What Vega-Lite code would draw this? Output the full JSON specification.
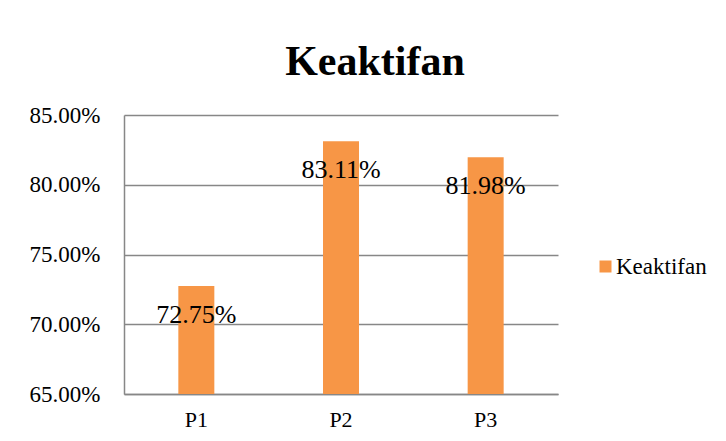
{
  "$schema": "https://vega.github.io/schema/vega-lite/v6.json",
  "width": 434,
  "height": 279,
  "autosize": {"type": "none"},
  "padding": {"left": 124, "top": 115, "right": 168, "bottom": 47},
  "background": "white",
  "title": {
    "text": "Keaktifan",
    "font": "Liberation Serif",
    "fontSize": 42,
    "fontWeight": "bold",
    "color": "black",
    "anchor": "middle",
    "frame": "group",
    "dx": 34,
    "offset": -13,
    "baseline": "alphabetic"
  },
  "data": {
    "values": [
      {"period": "P1", "value": 0.7275, "series": "Keaktifan"},
      {"period": "P2", "value": 0.8311, "series": "Keaktifan"},
      {"period": "P3", "value": 0.8198, "series": "Keaktifan"}
    ]
  },
  "encoding": {
    "x": {
      "field": "period",
      "type": "nominal",
      "scale": {"paddingInner": 0, "paddingOuter": 0},
      "axis": {
        "title": null,
        "labelAngle": 0,
        "grid": false,
        "ticks": false,
        "tickSize": 0,
        "labelPadding": 32,
        "labelBaseline": "alphabetic",
        "labelFont": "Liberation Serif",
        "labelFontSize": 22,
        "labelColor": "black",
        "domainColor": "#878787",
        "domainWidth": 1.5
      }
    },
    "y": {
      "field": "value",
      "type": "quantitative",
      "scale": {"domain": [0.65, 0.85], "zero": false, "nice": false},
      "axis": {
        "title": null,
        "values": [0.65, 0.7, 0.75, 0.8, 0.85],
        "format": ".2%",
        "ticks": false,
        "tickSize": 0,
        "labelPadding": 24,
        "labelFont": "Liberation Serif",
        "labelFontSize": 23,
        "labelColor": "black",
        "grid": true,
        "gridColor": "#878787",
        "gridWidth": 1.5,
        "domainColor": "#878787",
        "domainWidth": 1.5
      }
    }
  },
  "layer": [
    {
      "mark": {"type": "bar", "width": 36},
      "encoding": {
        "y2": {"datum": 0.65},
        "color": {
          "field": "series",
          "type": "nominal",
          "scale": {"range": ["#F79646"]},
          "legend": {
            "title": null,
            "orient": "none",
            "legendX": 470,
            "legendY": 140,
            "padding": 0,
            "symbolType": "square",
            "symbolSize": 144,
            "symbolStrokeWidth": 0,
            "labelOffset": -1,
            "labelFont": "Liberation Serif",
            "labelFontSize": 23,
            "labelColor": "black"
          }
        }
      }
    },
    {
      "mark": {
        "type": "text",
        "baseline": "alphabetic",
        "dy": 37,
        "font": "Liberation Serif",
        "fontSize": 26,
        "color": "black"
      },
      "encoding": {
        "text": {"field": "value", "type": "quantitative", "format": ".2%"}
      }
    }
  ],
  "config": {
    "view": {"stroke": null}
  }
}
